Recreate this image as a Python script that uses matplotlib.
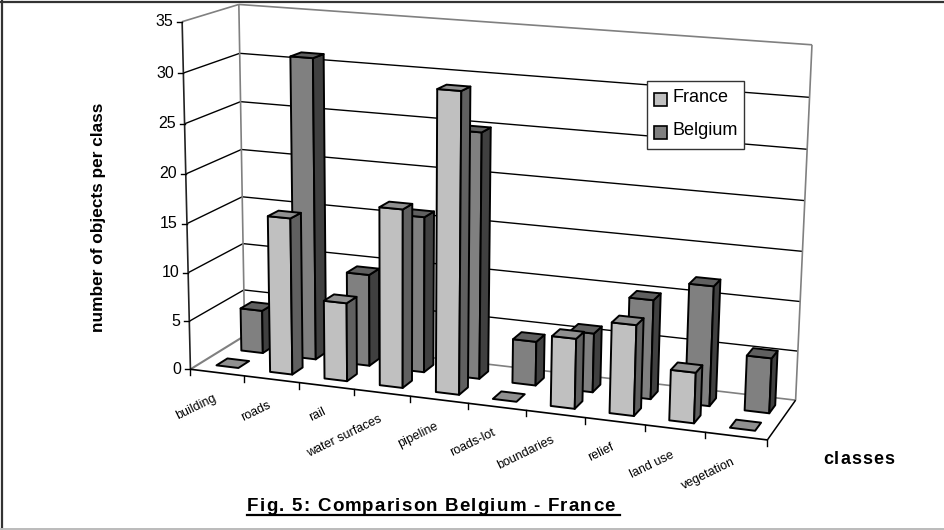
import matplotlib
matplotlib.use("Agg")
import matplotlib.pyplot as plt
from matplotlib.patches import Polygon, Rectangle
from matplotlib.font_manager import FontProperties
from matplotlib.textpath import TextPath
import numpy as np

plt.rcParams['font.family'] = ['Liberation Sans', 'DejaVu Sans']

classes = ["building", "roads", "rail", "water surfaces", "pipeline", "roads-lot",
           "boundaries", "relief", "land use", "vegetation"]
france = [0, 16, 8, 18, 30, 0, 7, 9, 5, 0]
belgium = [4.5, 31, 9.5, 16, 25, 4.5, 6, 10, 12, 5.5]
yticks = [0, 5, 10, 15, 20, 25, 30, 35]

FRANCE_COLORS = ("#c0c0c0", "#606060", "#909090")
BELGIUM_COLORS = ("#808080", "#404040", "#606060")

# calibration of the fake 3d box: (x, depth, value) -> pixel
box = [((0, 0, 0), (189, 366)), ((0, 0, 35), (183, 23)),
       ((0, 1, 0), (246, 339)), ((0, 1, 35), (238, 3)),
       ((10, 1, 0), (795, 398)), ((10, 1, 35), (812, 45)),
       ((10, 0, 0), (768, 442))]


def fit_projection(pairs):
    rows = []
    for (x, d, z), (px, py) in pairs:
        rows.append([x, d, z, 1, 0, 0, 0, 0, -px*x, -px*d, -px*z, -px])
        rows.append([0, 0, 0, 0, x, d, z, 1, -py*x, -py*d, -py*z, -py])
    return np.linalg.svd(np.array(rows, dtype=float))[2][-1].reshape(3, 4)


P = fit_projection(box)


def pt(x, d, z):
    v = P @ np.array([x, d, z, 1.0])
    return v[0]/v[2], v[1]/v[2]


def line3(ax, a, b, color="black", lw=1.0):
    p, q = pt(*a), pt(*b)
    ax.plot([p[0], q[0]], [p[1], q[1]], color=color, lw=lw, solid_capstyle="butt", zorder=2)


def draw_bar(ax, x0, x1, d0, d1, h, colors, z):
    front = [pt(x0, d0, 0), pt(x1, d0, 0), pt(x1, d0, h), pt(x0, d0, h)]
    side = [pt(x1, d0, 0), pt(x1, d1, 0), pt(x1, d1, h), pt(x1, d0, h)]
    top = [pt(x0, d0, h), pt(x1, d0, h), pt(x1, d1, h), pt(x0, d1, h)]
    if h == 0:
        ax.add_patch(Polygon(top, fc=colors[2], ec="black", lw=1.4, zorder=z, joinstyle="round"))
        return
    for verts, c in zip((front, side, top), colors):
        ax.add_patch(Polygon(verts, fc=c, ec="black", lw=1.4, zorder=z, joinstyle="round"))


def spaced_text(ax, x, y, s, size, gap):
    # matplotlib has no letter spacing, so place the characters one by one
    fp = FontProperties(family="Liberation Sans", weight="bold")
    scale = 100 / 72

    def adv(t):
        return TextPath((0, 0), t + "|", size=size, prop=fp).get_extents().x1 * scale

    bar = adv("")
    for k, ch in enumerate(s):
        px = x + (adv(s[:k]) - bar if k else 0) + k * gap
        ax.text(px, y, ch, ha="left", va="baseline", fontsize=size, fontweight="bold")


fig = plt.figure(figsize=(9.45, 5.3), dpi=100)
ax = fig.add_axes([0, 0, 1, 1])
ax.set_xlim(0, 945)
ax.set_ylim(530, 0)
ax.axis("off")

# outer frame: dark top and left, light bottom, nothing on the right
ax.plot([1, 945], [1.5, 1.5], color="#333333", lw=1.6, zorder=1)
ax.plot([1.5, 1.5], [1, 530], color="#333333", lw=1.6, zorder=1)
ax.plot([0, 945], [529, 529], color="#bbbbbb", lw=1.4, zorder=1)

# walls and gridlines
top_val = yticks[-1]
for v in yticks[1:-1]:
    line3(ax, (0, 0, v), (0, 1, v))
    line3(ax, (0, 1, v), (10, 1, v))
line3(ax, (0, 0, 0), (0, 1, 0), "#808080", 1.5)
line3(ax, (0, 1, 0), (10, 1, 0), "#808080", 1.2)
line3(ax, (0, 0, top_val), (0, 1, top_val), "#808080", 1.2)
line3(ax, (0, 1, top_val), (10, 1, top_val), "#808080", 1.2)
line3(ax, (0, 1, 0), (0, 1, top_val), "#808080", 1.2)
line3(ax, (10, 1, 0), (10, 1, top_val), "#808080", 1.2)
line3(ax, (10, 1, 0), (10, 0, 0), "black", 1.1)

# bars, back series first
n = len(classes)
for i in range(n):
    draw_bar(ax, i + 0.33, i + 0.74, 0.61, 0.82, belgium[i], BELGIUM_COLORS, 3)
for i in range(n):
    draw_bar(ax, i + 0.31, i + 0.72, 0.17, 0.37, france[i], FRANCE_COLORS, 4)

# axes in front
line3(ax, (0, 0, 0), (0, 0, top_val), "#222222", 1.2)
line3(ax, (0, 0, 0), (10, 0, 0), "black", 1.2)
for v in yticks:
    px, py = pt(0, 0, v)
    ax.plot([px - 5, px], [py, py], color="black", lw=1.0, zorder=2)
    ax.text(px - 9, py, str(v), ha="right", va="center", fontsize=11.5, color="black")
for i in range(n + 1):
    px, py = pt(i, 0, 0)
    ax.plot([px, px], [py, py + 6], color="black", lw=1.0, zorder=2)
for i, name in enumerate(classes):
    px, py = pt(i + 0.5, 0, 0)
    ax.text(px - 4, py + 20, name, rotation=26, ha="right", va="top",
            rotation_mode="anchor", fontsize=9, color="black")

# legend
ax.add_patch(Rectangle((647, 81), 97, 68, fc="white", ec="#333333", lw=1.0, zorder=5))
for y, name, c in ((99.5, "France", FRANCE_COLORS[0]), (132.5, "Belgium", BELGIUM_COLORS[0])):
    ax.add_patch(Rectangle((654, y - 6.5), 13, 13, fc=c, ec="black", lw=1.2, zorder=6))
    ax.text(673, y - 2, name, ha="left", va="center", fontsize=13, zorder=6)

# labels
ax.text(98, 217, "number of objects per class", rotation=90, ha="center", va="center",
        fontsize=12.4, fontweight="bold")
spaced_text(ax, 823, 464, "classes", 13, 1.1)
spaced_text(ax, 247, 511, "Fig. 5: Comparison Belgium - France", 13.5, 1.2)
ax.plot([247, 620], [514.5, 514.5], color="black", lw=1.6)

fig.savefig("out.png", dpi=100)
